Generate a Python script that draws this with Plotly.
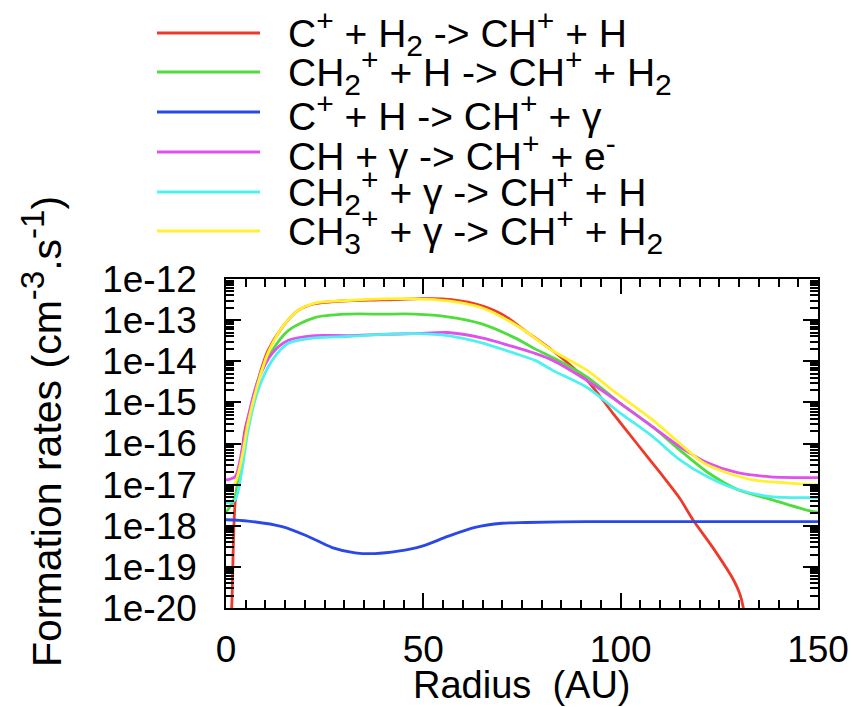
import plotly.graph_objects as go

# ---------------- data ----------------
SUP = '<sup><span style="font-size:30px">{}</span></sup>'
SUB = '<sub><span style="font-size:30px">{}</span></sub>'
SUP_T = '<sup><span style="font-size:33px">{}</span></sup>'

NAMES = [
    "C" + SUP.format("+") + " + H" + SUB.format("2") + " -> CH" + SUP.format("+") + " + H",
    "CH" + SUB.format("2") + SUP.format("+") + " + H -> CH" + SUP.format("+") + " + H" + SUB.format("2"),
    "C" + SUP.format("+") + " + H -> CH" + SUP.format("+") + " + γ",
    "CH + γ -> CH" + SUP.format("+") + " + e" + SUP.format("-"),
    "CH" + SUB.format("2") + SUP.format("+") + " + γ -> CH" + SUP.format("+") + " + H",
    "CH" + SUB.format("3") + SUP.format("+") + " + γ -> CH" + SUP.format("+") + " + H" + SUB.format("2"),
]
COLORS = ["#ee3a2a", "#4fdc3c", "#2a48e8", "#e050ee", "#4ff0f0", "#fff030"]

x_red = [1.2, 1.5, 2.3, 3.5, 4.8, 6.6, 8.6, 10.6, 14.2, 18.2, 22.5, 30.9, 39.5, 47.9,
         54.7, 63.1, 69.9, 75.8, 82.8, 91.5, 98.0, 104.1, 110.0, 115.0, 118.3, 123.4,
         128.5, 130.2, 131.0, 131.5]
y_red = [3.2e-21, 1.4e-20, 3.6e-18, 2.3e-17, 2.1e-16, 9.5e-16, 5.0e-15, 1.8e-14, 6.6e-14,
         1.7e-13, 2.5e-13, 2.95e-13, 3.1e-13, 3.3e-13, 3.3e-13, 2.5e-13, 1.4e-13, 5.5e-14,
         1.8e-14, 3.4e-15, 5.5e-16, 1.0e-16, 1.95e-17, 4.6e-18, 1.4e-18, 2.9e-19, 5.0e-20,
         2.2e-20, 1.1e-20, 5.0e-21]

x_std = [0.0, 2.3, 4.05, 5.6, 8.1, 11.7, 15.7, 22.5, 30.9, 39.5, 47.9, 56.2, 64.8,
         73.2, 78.3, 82.8, 91.5, 99.9, 108.2, 115.0, 122.0, 129.6, 138.0, 148.7, 150.0]

y_green = [2.1e-18, 5.1e-18, 4.7e-17, 3.7e-16, 3.4e-15, 1.8e-14, 5.5e-14, 1.15e-13,
           1.4e-13, 1.4e-13, 1.4e-13, 1.2e-13, 8.1e-14, 3.7e-14, 2.0e-14, 1.23e-14,
           4.1e-15, 9.5e-16, 2.5e-16, 6.9e-17, 2.0e-17, 7.6e-18, 4.4e-18, 2.2e-18, 2.15e-18]

y_magenta = [1.3e-17, 1.55e-17, 6.9e-17, 4.4e-16, 3.4e-15, 1.55e-14, 3.2e-14, 4.2e-14,
             4.2e-14, 4.5e-14, 4.7e-14, 5.0e-14, 3.7e-14, 2.2e-14, 1.55e-14, 1.05e-14,
             3.4e-15, 9.5e-16, 2.5e-16, 8.3e-17, 3.4e-17, 1.95e-17, 1.55e-17, 1.48e-17,
             1.48e-17]

y_cyan = [3.6e-18, 4.3e-18, 2.3e-17, 2.1e-16, 1.95e-15, 1.05e-14, 2.7e-14, 3.7e-14,
          4.0e-14, 4.5e-14, 4.7e-14, 4.2e-14, 2.8e-14, 1.55e-14, 1.05e-14, 6.0e-15,
          2.3e-15, 5.5e-16, 1.45e-16, 4.0e-17, 1.55e-17, 7.6e-18, 5.1e-18, 4.8e-18, 4.8e-18]

x_yellow = [0.0, 2.3, 4.05, 5.6, 8.1, 10.6, 14.2, 18.2, 22.5, 30.9, 39.5, 47.9, 56.2,
            64.8, 74.5, 82.8, 91.5, 98.0, 108.2, 115.0, 120.9, 126.9, 133.5, 142.1, 148.7, 150.0]
y_yellow = [7.1e-18, 1.1e-17, 4.7e-17, 3.2e-16, 2.9e-15, 1.55e-14, 6.6e-14, 1.7e-13,
            2.6e-13, 3.0e-13, 3.3e-13, 3.3e-13, 2.95e-13, 2.0e-13, 6.6e-14, 1.8e-14,
            6.0e-15, 1.95e-15, 3.7e-16, 1.0e-16, 3.4e-17, 1.95e-17, 1.3e-17, 1.1e-17,
            1.0e-17, 1.0e-17]

x_blue = [0.0, 5.6, 14.2, 20.8, 26.9, 32.7, 37.7, 43.6, 49.7, 56.2, 63.1, 69.9, 76.0,
          91.5, 116.0, 150.0]
y_blue = [1.4e-18, 1.3e-18, 9.5e-19, 5.5e-19, 2.95e-19, 2.2e-19, 2.1e-19, 2.4e-19,
          3.2e-19, 5.5e-19, 9.1e-19, 1.15e-18, 1.2e-18, 1.26e-18, 1.26e-18, 1.26e-18]

Y_TICKVALS = [1e-12, 1e-13, 1e-14, 1e-15, 1e-16, 1e-17, 1e-18, 1e-19, 1e-20]
Y_TICKTEXT = ["1e-12", "1e-13", "1e-14", "1e-15", "1e-16", "1e-17", "1e-18", "1e-19", "1e-20"]
X_TICKVALS = [0, 50, 100, 150]
X_TICKTEXT = ["0", "50", "100", "150"]

Y_TITLE = "Formation rates (cm" + SUP_T.format("-3") + ".s" + SUP_T.format("-1") + ")"
X_TITLE = "Radius  (AU)"

SERIES = [
    (x_red, y_red),
    (x_std, y_green),
    (x_blue, y_blue),
    (x_std, y_magenta),
    (x_std, y_cyan),
    (x_yellow, y_yellow),
]

# ---------------- layout geometry (pixels) ----------------
W, H = 854, 707
L, R, T, B = 226, 818, 279, 608
FONT = "Liberation Sans, Arial, Helvetica, sans-serif"


def px(xp):
    return (xp - L) / (R - L)


def py(yp):
    return (B - yp) / (B - T)


fig = go.Figure()
for (xs, ys), name, col in zip(SERIES, NAMES, COLORS):
    fig.add_trace(go.Scatter(x=xs, y=ys, mode="lines", name=name, showlegend=False,
                             line=dict(color=col, width=2.8, shape="spline", smoothing=0.8)))

# manual legend (keeps the long gnuplot-style sample lines)
leg_rows = [33, 72, 112, 152, 192, 231]
shapes = []
annotations = []
for name, col, yr in zip(NAMES, COLORS, leg_rows):
    shapes.append(dict(type="line", xref="paper", yref="paper",
                       x0=px(157), x1=px(260), y0=py(yr), y1=py(yr),
                       line=dict(color=col, width=2.8)))
    annotations.append(dict(text=name, xref="paper", yref="paper", x=px(286), y=py(yr),
                            xanchor="left", yanchor="middle", showarrow=False,
                            font=dict(size=39, color="black", family=FONT)))

annotations.append(dict(text=Y_TITLE,
                        xref="paper", yref="paper", x=px(42), y=py(432),
                        xanchor="center", yanchor="middle", textangle=-90,
                        showarrow=False, font=dict(size=41, color="black", family=FONT)))
annotations.append(dict(text=X_TITLE, xref="paper", yref="paper",
                        x=0.5, y=py(685), xanchor="center", yanchor="middle",
                        showarrow=False, font=dict(size=38, color="black", family=FONT)))

fig.update_layout(
    width=W, height=H,
    margin=dict(l=L, r=W - R, t=T, b=H - B, pad=0),
    paper_bgcolor="white", plot_bgcolor="white",
    template="none",
    font=dict(family=FONT, size=37, color="black"),
    shapes=shapes, annotations=annotations,
    showlegend=False,
)
fig.update_xaxes(
    range=[0, 150], tickmode="array", tickvals=X_TICKVALS, ticktext=X_TICKTEXT,
    ticks="inside", ticklen=15, tickwidth=1.5, tickcolor="black",
    showline=True, linecolor="black", linewidth=1.5, mirror="allticks",
    showgrid=False, zeroline=False, automargin=False, ticklabelstandoff=8,
    tickfont=dict(size=37, family=FONT, color="black"),
    minor=dict(ticks="inside", ticklen=8, tickwidth=1.5, tickcolor="black", dtick=5,
               showgrid=False),
)
fig.update_yaxes(
    type="log", range=[-20, -12], tickmode="array", tickvals=Y_TICKVALS, ticktext=Y_TICKTEXT,
    ticks="inside", ticklen=15, tickwidth=1.5, tickcolor="black",
    showline=True, linecolor="black", linewidth=1.5, mirror="allticks",
    showgrid=False, zeroline=False, automargin=False, ticklabelstandoff=20,
    tickfont=dict(size=37, family=FONT, color="black"),
    minor=dict(ticks="inside", ticklen=8, tickwidth=1.5, tickcolor="black", dtick="D1",
               showgrid=False),
)

fig.write_html("out.html")
